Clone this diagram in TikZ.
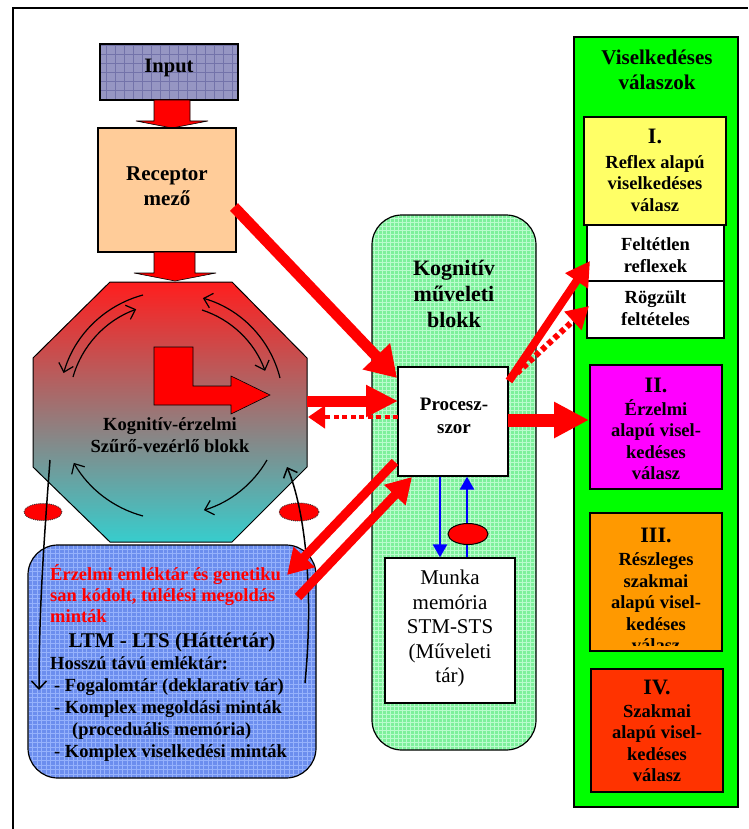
\documentclass[tikz,border=0pt]{standalone}
\usepackage{fontspec}
\setmainfont{Liberation Serif}
\usetikzlibrary{arrows.meta,shapes.geometric,calc}

\definecolor{inpfill}{RGB}{150,150,195}
\definecolor{inpgrid}{RGB}{115,115,170}
\definecolor{recfill}{RGB}{255,204,153}
\definecolor{ltmfill}{RGB}{108,142,238}
\definecolor{ltmgrid}{RGB}{150,178,252}
\definecolor{kogfill}{RGB}{125,240,155}
\definecolor{koggrid}{RGB}{185,252,205}
\definecolor{octtop}{RGB}{255,30,30}
\definecolor{octmid}{RGB}{178,150,150}
\definecolor{octbot}{RGB}{55,205,205}
\definecolor{vgreen}{RGB}{0,255,0}
\definecolor{vyellow}{RGB}{255,255,102}
\definecolor{vmagenta}{RGB}{255,0,255}
\definecolor{vorange}{RGB}{255,153,0}
\definecolor{vred}{RGB}{255,51,0}

\newcommand\fsz[2]{\fontsize{#1}{#2}\selectfont}

\begin{document}
\begin{tikzpicture}[x=1pt,y=-1pt,
  box/.style={rectangle, draw=black, line width=1.2pt, inner sep=0pt},
  lbl/.style={inner sep=0pt, align=center, font=\bfseries\fsz{18.5}{21.5}},
  blockarrow/.style={fill=red, draw=black, line width=0.6pt, line join=miter},
  circarrow/.style={draw=black, line width=1.2pt, -{Straight Barb[length=8pt,width=15pt]}},
  thinarrow/.style={draw=black, line width=1.5pt, -{Straight Barb[length=8pt,width=15pt]}},
  redline/.style={draw=red, line cap=butt},
  reddots/.style={draw=red, line cap=butt, dash pattern=on 5pt off 3.5pt},
  bluearrow/.style={draw=blue, line width=2.5pt, -{Triangle[length=13pt,width=14pt]}},
  blob/.style={ellipse, fill=red, inner sep=0pt},
  gridfill/.style n args={3}{path picture={\draw[#1, line width=#2, step=#3]
      (path picture bounding box.south west) grid (path picture bounding box.north east);}}
]
\useasboundingbox (0,0) rectangle (748,829);

% page frame
\draw[line width=1.3pt] (13,829) -- (13,8) -- (748,8);

% ---------- input and receptor field ----------
\node[box, fill=inpfill, minimum width=138pt, minimum height=56pt,
  gridfill={inpgrid}{0.7pt}{9pt}] (input) at (169,72) {};
\node[lbl, font=\bfseries\fsz{20.5}{24}] (inputtxt) at (169,68) {Input};

\draw[blockarrow] (154,100) -- (190,100) -- (190,121) -- (208,121) -- (172,128)
  -- (136,121) -- (154,121) -- cycle;

\node[box, fill=recfill, minimum width=138pt, minimum height=124pt] (recep) at (167,190) {};
\node[lbl, font=\bfseries\fsz{21}{25}] (receptxt) at (167,186) {Receptor\\mező};

\draw[blockarrow] (154,252) -- (195,252) -- (195,273) -- (216,273) -- (175,281)
  -- (134,273) -- (154,273) -- cycle;

% ---------- cognitive-emotional filter block ----------
\path[draw=black, line width=1pt, top color=octtop, middle color=octmid, bottom color=octbot]
  (110,282) -- (232,282) -- (307,358) -- (307,467) -- (232,542) -- (110,542)
  -- (33,467) -- (33,358) -- cycle;

\draw[circarrow] (143,295) arc[start angle=105, end angle=164, radius=113pt];
\draw[circarrow] (73,377) arc[start angle=164, end angle=110, radius=102pt];
\draw[circarrow] (280,378) arc[start angle=14, end angle=74, radius=111pt];
\draw[circarrow] (202,310) arc[start angle=72, end angle=20, radius=100pt];
\draw[circarrow] (143,516) arc[start angle=255, end angle=210, radius=114pt];
\draw[circarrow] (267,460) arc[start angle=330, end angle=287, radius=110pt];

\draw[blockarrow] (154,347) -- (193,347) -- (193,386) -- (231,386) -- (231,376)
  -- (270,395) -- (231,414) -- (231,405) -- (154,405) -- cycle;

\node[lbl, font=\bfseries\fsz{18.5}{22}] (octtxt) at (170,435)
  {Kognitív-érzelmi\\Szűrő-vezérlő blokk};

% ---------- long term memory ----------
\node[box, rounded corners=30pt, fill=ltmfill, minimum width=288pt, minimum height=233pt,
  gridfill={ltmgrid}{0.9pt}{4.5pt}] (ltm) at (172,661.5) {};

\node[lbl, text=red, align=left, anchor=north west, font=\bfseries\fsz{18.5}{21}]
  (ltmred) at (50,564)
  {Érzelmi emléktár és genetiku\\san kódolt, túlélési megoldás\\minták};
\node[lbl, font=\bfseries\fsz{21}{24}] (ltmtitle) at (172,642) {LTM - LTS (Háttértár)};
\node[lbl, align=left, anchor=north west, font=\bfseries\fsz{18.5}{22}] (ltmlist) at (50,656)
  {Hosszú távú emléktár:\\
   \hspace*{4pt}- Fogalomtár (deklaratív tár)\\
   \hspace*{4pt}- Komplex megoldási minták\\
   \hspace*{22pt}(proceduális memória)\\
   \hspace*{4pt}- Komplex viselkedési minták};

% feedback loops between filter block and memory
\node[blob, draw=black!80, densely dotted, line width=0.9pt, minimum width=38pt, minimum height=17pt]
  (blobl) at (43,512) {};
\node[blob, draw=black!80, densely dotted, line width=0.9pt, minimum width=40pt, minimum height=18pt]
  (blobr) at (299,512) {};
\coordinate (octdown) at (50,460);
\coordinate (ltmin) at (39,690);
\coordinate (ltmout) at (305,683);
\coordinate (octup) at (287,467);
\draw[thinarrow] (octdown) .. controls (44,540) and (39,610) .. (ltmin);
\draw[thinarrow] (ltmout) .. controls (314,590) and (305,510) .. (octup);

% ---------- cognitive operation block ----------
\node[box, rounded corners=30pt, fill=kogfill, minimum width=164pt, minimum height=535pt,
  gridfill={koggrid}{0.6pt}{4pt}] (kog) at (454,482.5) {};
\node[lbl, font=\bfseries\fsz{22}{26}] (kogtxt) at (454,294) {Kognitív\\műveleti\\blokk};

\node[box, fill=white, minimum width=110pt, minimum height=109pt] (proc) at (453,421.5) {};
\node[lbl, font=\bfseries\fsz{19}{23}] (proctxt) at (454,416) {Procesz-\\szor};

\node[box, fill=white, minimum width=130pt, minimum height=145pt] (munka) at (450,630.5) {};
\node[inner sep=0pt, align=center, font=\fsz{21}{24.5}] (munkatxt) at (450,628.5)
  {Munka\\memória\\STM-STS\\(Műveleti\\tár)};

\draw[bluearrow] ($(proc.south)+(-13,0)$) -- ($(munka.north)+(-10,0)$);
\draw[bluearrow] ($(munka.north)+(17,0)$) -- ($(proc.south)+(14,0)$);
\node[blob, draw=black, line width=1pt, minimum width=40pt, minimum height=21pt] (blobm) at (468,534) {};

% ---------- behavioural responses ----------
\node[box, fill=vgreen, line width=1.5pt, minimum width=164pt, minimum height=770pt] (vcol) at (656,422) {};
\node[lbl, font=\bfseries\fsz{21}{25}] (vtitle) at (657,70) {Viselkedéses\\válaszok};

\node[box, fill=vyellow, minimum width=142pt, minimum height=108pt] (r1) at (655,171) {};
\node[lbl] (r1txt) at (655,170) {{\fsz{22}{22}I.}\\[3.5pt]Reflex alapú\\viselkedéses\\válasz};

\node[box, fill=white, minimum width=137pt, minimum height=56pt] (felt) at (655.5,253) {};
\node[lbl] (felttxt) at (655.5,255) {Feltétlen\\reflexek};

\node[box, fill=white, minimum width=137pt, minimum height=57pt] (rogz) at (655.5,309.5) {};
\node[lbl] (rogztxt) at (655.5,308) {Rögzült\\feltételes};

\node[box, fill=vmagenta, minimum width=132pt, minimum height=124pt] (r2) at (656,427) {};
\node[lbl] (r2txt) at (656,429) {{\fsz{22}{22}II.}\\[1.5pt]Érzelmi\\alapú visel-\\kedéses\\válasz};

\node[box, fill=vorange, minimum width=132pt, minimum height=138pt] (r3) at (656,582) {};
% the text frame of this box is shorter than the box, so its last line is cut
\begin{scope}
  \clip ($(r3.south west)+(2,-6)$) rectangle ($(r3.north east)+(-2,2)$);
  \node[lbl] (r3txt) at (656,590) {{\fsz{22}{22}III.}\\[1.5pt]Részleges\\szakmai\\alapú visel-\\kedéses\\válasz};
\end{scope}

\node[box, fill=vred, minimum width=132pt, minimum height=123pt] (r4) at (657,730.5) {};
\node[lbl] (r4txt) at (657,731) {{\fsz{22}{22}IV.}\\[1.5pt]Szakmai\\alapú visel-\\kedéses\\válasz};

% ---------- red signal paths ----------
\coordinate (recout) at (234,207);
\coordinate (procin) at (397,378);
\coordinate (octout) at (307,401);
\coordinate (procinb) at (398,401);
\coordinate (procback) at (398,417);
\coordinate (octin) at (308,417);
\coordinate (procdown) at (395,462);
\coordinate (ltmred1) at (287,575);
\coordinate (ltmred2) at (298,597);
\coordinate (procup) at (412,477);
\coordinate (procright) at (508,420);
\coordinate (r2in) at (589,420);
\coordinate (procne) at (509,381);
\coordinate (feltin) at (590,261);
\coordinate (procne2) at (517,373);
\coordinate (rogzin) at (589,306);

\draw[redline, line width=11pt, -{Triangle[length=30pt,width=36pt]}] (recout) -- (procin);
\draw[redline, line width=11pt, -{Triangle[length=32pt,width=30pt]}] (octout) -- (procinb);
\draw[reddots, line width=4.5pt, -{Triangle[length=17pt,width=22pt]}] (procback) -- (octin);
\draw[redline, line width=9pt, -{Triangle[length=25pt,width=28pt]}] (procdown) -- (ltmred1);
\draw[redline, line width=9pt, -{Triangle[length=25pt,width=28pt]}] (ltmred2) -- (procup);
\draw[redline, line width=13pt, -{Triangle[length=35pt,width=34pt]}] (procright) -- (r2in);
\draw[redline, line width=8pt, -{Triangle[length=24pt,width=26pt]}] (procne) -- (feltin);
\draw[reddots, line width=6pt, -{Triangle[length=22pt,width=24pt]}] (procne2) -- (rogzin);

\end{tikzpicture}
\end{document}
